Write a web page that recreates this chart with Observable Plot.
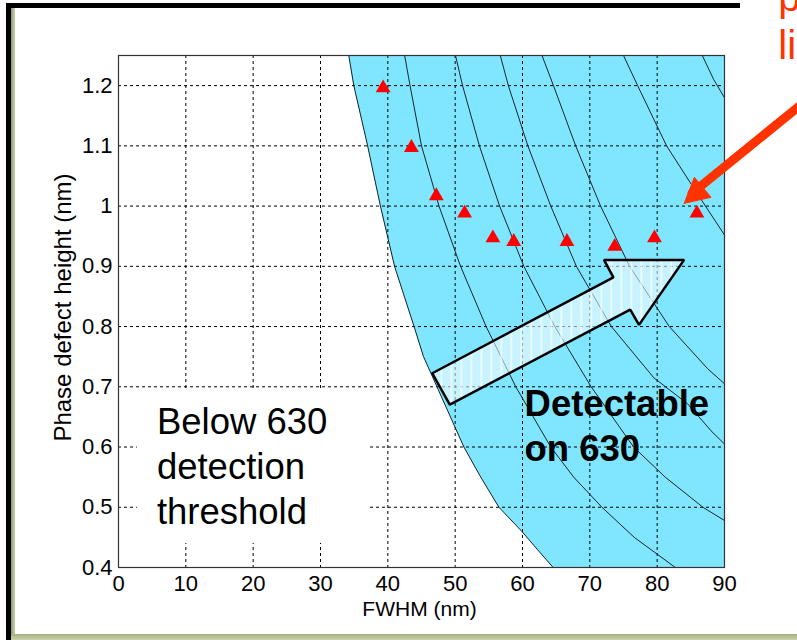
<!DOCTYPE html>
<html>
<head>
<meta charset="utf-8">
<script src="https://cdn.jsdelivr.net/npm/d3@7"></script>
<script src="https://cdn.jsdelivr.net/npm/@observablehq/plot@0.6"></script>
<style>
  html, body { margin: 0; padding: 0; background: white; }
  #wrap { position: relative; width: 797px; height: 640px; overflow: hidden; background: white; }
  #wrap svg { position: absolute; left: 0; top: 0; }
  .bar { position: absolute; }
</style>
</head>
<body>
<div id="wrap">
  <div class="bar" style="left:6px;top:3px;width:734px;height:4.5px;background:#000"></div>
  <div class="bar" style="left:6px;top:3px;width:4.5px;height:637px;background:#000"></div>
  <div class="bar" style="left:10.5px;top:7.5px;width:4px;height:629px;background:linear-gradient(to right,#8f9c6c,#c9d3aa)"></div>
  <div class="bar" style="left:10.5px;top:634px;width:787px;height:6px;background:linear-gradient(to bottom,#a3af84,#cbd4ab)"></div>
</div>
<script>
// ---- axis ticks ----
const xTicks = [0, 10, 20, 30, 40, 50, 60, 70, 80, 90];
const yTicks = [0.4, 0.5, 0.6, 0.7, 0.8, 0.9, 1.0, 1.1, 1.2];

// ---- detection threshold boundary (FWHM nm, height nm) ----
const boundary = [[34.2,1.25],[34.95,1.2],[37.0,1.1],[38.9,1.0],[41.0,0.9],[43.9,0.8],[45.3,0.75],[47.3,0.7],
  [49.3,0.65],[51.3,0.6],[53.8,0.55],[56.5,0.5],[59.9,0.46],[62.2,0.43],[64.55,0.4]];

// ---- signal contour lines ----
const contour1 = [[42.5,1.25],[43.3,1.2],[45.0,1.1],[47.6,1.0],[50.8,0.9],[54.6,0.8],[59.0,0.7],[64.2,0.6],[67.6,0.55],[71.8,0.5],[76.6,0.45],[82.7,0.4]];
const contour2 = [[50.05,1.25],[51.1,1.2],[53.6,1.1],[56.6,1.0],[60.2,0.9],[64.8,0.8],[70.2,0.7],[76.5,0.6],[81.2,0.55],[86.8,0.5],[90,0.478]];
const contour3 = [[56.7,1.25],[57.9,1.2],[60.8,1.1],[64.2,1.0],[68.0,0.9],[73.2,0.8],[79.5,0.715],[84.5,0.672],[88.0,0.627],[90,0.605]];
const contour4 = [[62.9,1.25],[64.6,1.2],[67.9,1.1],[71.6,1.0],[75.9,0.9],[81.8,0.8],[87.5,0.73],[90,0.705]];
const contour5 = [[75.0,1.25],[77.1,1.2],[81.4,1.1],[86.0,1.02],[90,0.952]];
const contour6 = [[86.7,1.25],[88.4,1.21],[90,1.18]];
const contours = [contour1, contour2, contour3, contour4, contour5, contour6];

// ---- measured defects (red triangles) ----
const defectFWHM   = [39.3, 43.5, 47.2, 51.4, 55.6, 58.7, 66.6, 73.7, 79.6, 85.9];
const defectHeight = [1.196, 1.097, 1.017, 0.988, 0.947, 0.941, 0.941, 0.933, 0.947, 0.988];

// ---- annotations (data units) ----
const bigArrow = [[46.6,0.7225],[73.5,0.8818],[72.1,0.9107],[84.0,0.9107],[77.3,0.8028],[76.0,0.8282],[49.2,0.6705],[46.6,0.7225]];
const redShaft = [[85.17,1.0212],[106.5,1.2150]];
const redHead = [[84.02,1.0046],[88.0,1.0146],[85.53,1.0478],[84.02,1.0046]];
const belowBox = {x1: 2.8, x2: 37.1, y1: 0.44, y2: 0.697};
const labels = {
  below: "Below 630\ndetection\nthreshold",
  detect: "Detectable\non 630",
  xLabel: "FWHM (nm)",
  yLabel: "Phase defect height (nm)",
  red: "p\nli"
};

const defects = defectFWHM.map((x, i) => ({x, y: defectHeight[i]}));
const font = "'Liberation Sans', Arial, Helvetica, sans-serif";

const chart = Plot.plot({
  width: 797,
  height: 640,
  marginLeft: 118,
  marginRight: 73,
  marginTop: 55,
  marginBottom: 73,
  style: {fontFamily: font, fontSize: "22px", color: "black", background: "transparent", overflow: "visible"},
  x: {domain: [0, 90], ticks: xTicks, tickSize: 0, tickPadding: 8, label: null},
  y: {domain: [0.4, 1.25], ticks: yTicks, tickSize: 0, tickPadding: 6, tickFormat: d3.format("~g"), label: null},
  marks: [
    Plot.areaX(boundary, {y: d => d[1], x1: d => d[0], x2: d => 90, fill: "#80E5FF"}),
    Plot.ruleX(xTicks.slice(1, -1), {stroke: "black", strokeWidth: 1, strokeDasharray: "3,3"}),
    Plot.ruleY(yTicks.slice(1), {stroke: "black", strokeWidth: 1, strokeDasharray: "3,3"}),
    Plot.rect([belowBox], {x1: "x1", x2: "x2", y1: "y1", y2: "y2", fill: "white"}),
    ...contours.map(c => Plot.line(c, {x: d => d[0], y: d => d[1], stroke: "#16252a", strokeWidth: 1})),
    Plot.line(boundary, {x: d => d[0], y: d => d[1], stroke: "#16252a", strokeWidth: 1}),
    Plot.frame({stroke: "#333", strokeWidth: 1.2}),
    Plot.dot(defects, {x: "x", y: "y", symbol: "triangle", r: 5.5, fill: "#FF0000", stroke: "none"}),
    Plot.line(bigArrow, {x: d => d[0], y: d => d[1], fill: "url(#stripes)", stroke: "black", strokeWidth: 2.5, strokeLinejoin: "miter"}),
    Plot.text([labels.below], {x: 5.7, y: 0.473, text: d => d, textAnchor: "start", lineAnchor: "bottom", fontSize: 36.5, lineHeight: 1.233, fill: "black"}),
    Plot.text([labels.detect], {x: 60.3, y: 0.5776, text: d => d, textAnchor: "start", lineAnchor: "bottom", fontSize: 36.5, fontWeight: "bold", lineHeight: 1.233, fill: "black"}),
    Plot.text([labels.xLabel], {frameAnchor: "bottom", text: d => d, textAnchor: "middle", lineAnchor: "bottom", dx: -2, dy: 48, fontSize: 21}),
    Plot.text([labels.yLabel], {frameAnchor: "left", text: d => d, rotate: -90, textAnchor: "middle", lineAnchor: "middle", dx: -55, dy: -4, fontSize: 24}),
    Plot.line(redShaft, {x: d => d[0], y: d => d[1], stroke: "#FF3300", strokeWidth: 9}),
    Plot.line(redHead, {x: d => d[0], y: d => d[1], fill: "#FF3300", stroke: "#FF3300", strokeWidth: 1}),
    Plot.text([labels.red], {x: 98.0, y: 1.2448, text: d => d, textAnchor: "start", lineAnchor: "bottom", fontSize: 40, lineHeight: 1.2, fill: "#FF3300"})
  ]
});

// stripe pattern for the hollow arrow
const defs = document.createElementNS("http://www.w3.org/2000/svg", "defs");
defs.innerHTML = `<pattern id="stripes" patternUnits="userSpaceOnUse" width="10" height="10">
  <rect width="10" height="10" fill="white" fill-opacity="0.55"></rect>
  <rect x="0" width="1.5" height="10" fill="white" fill-opacity="0.85"></rect>
</pattern>`;
chart.insertBefore(defs, chart.firstChild);
document.getElementById("wrap").appendChild(chart);
</script>
</body>
</html>
